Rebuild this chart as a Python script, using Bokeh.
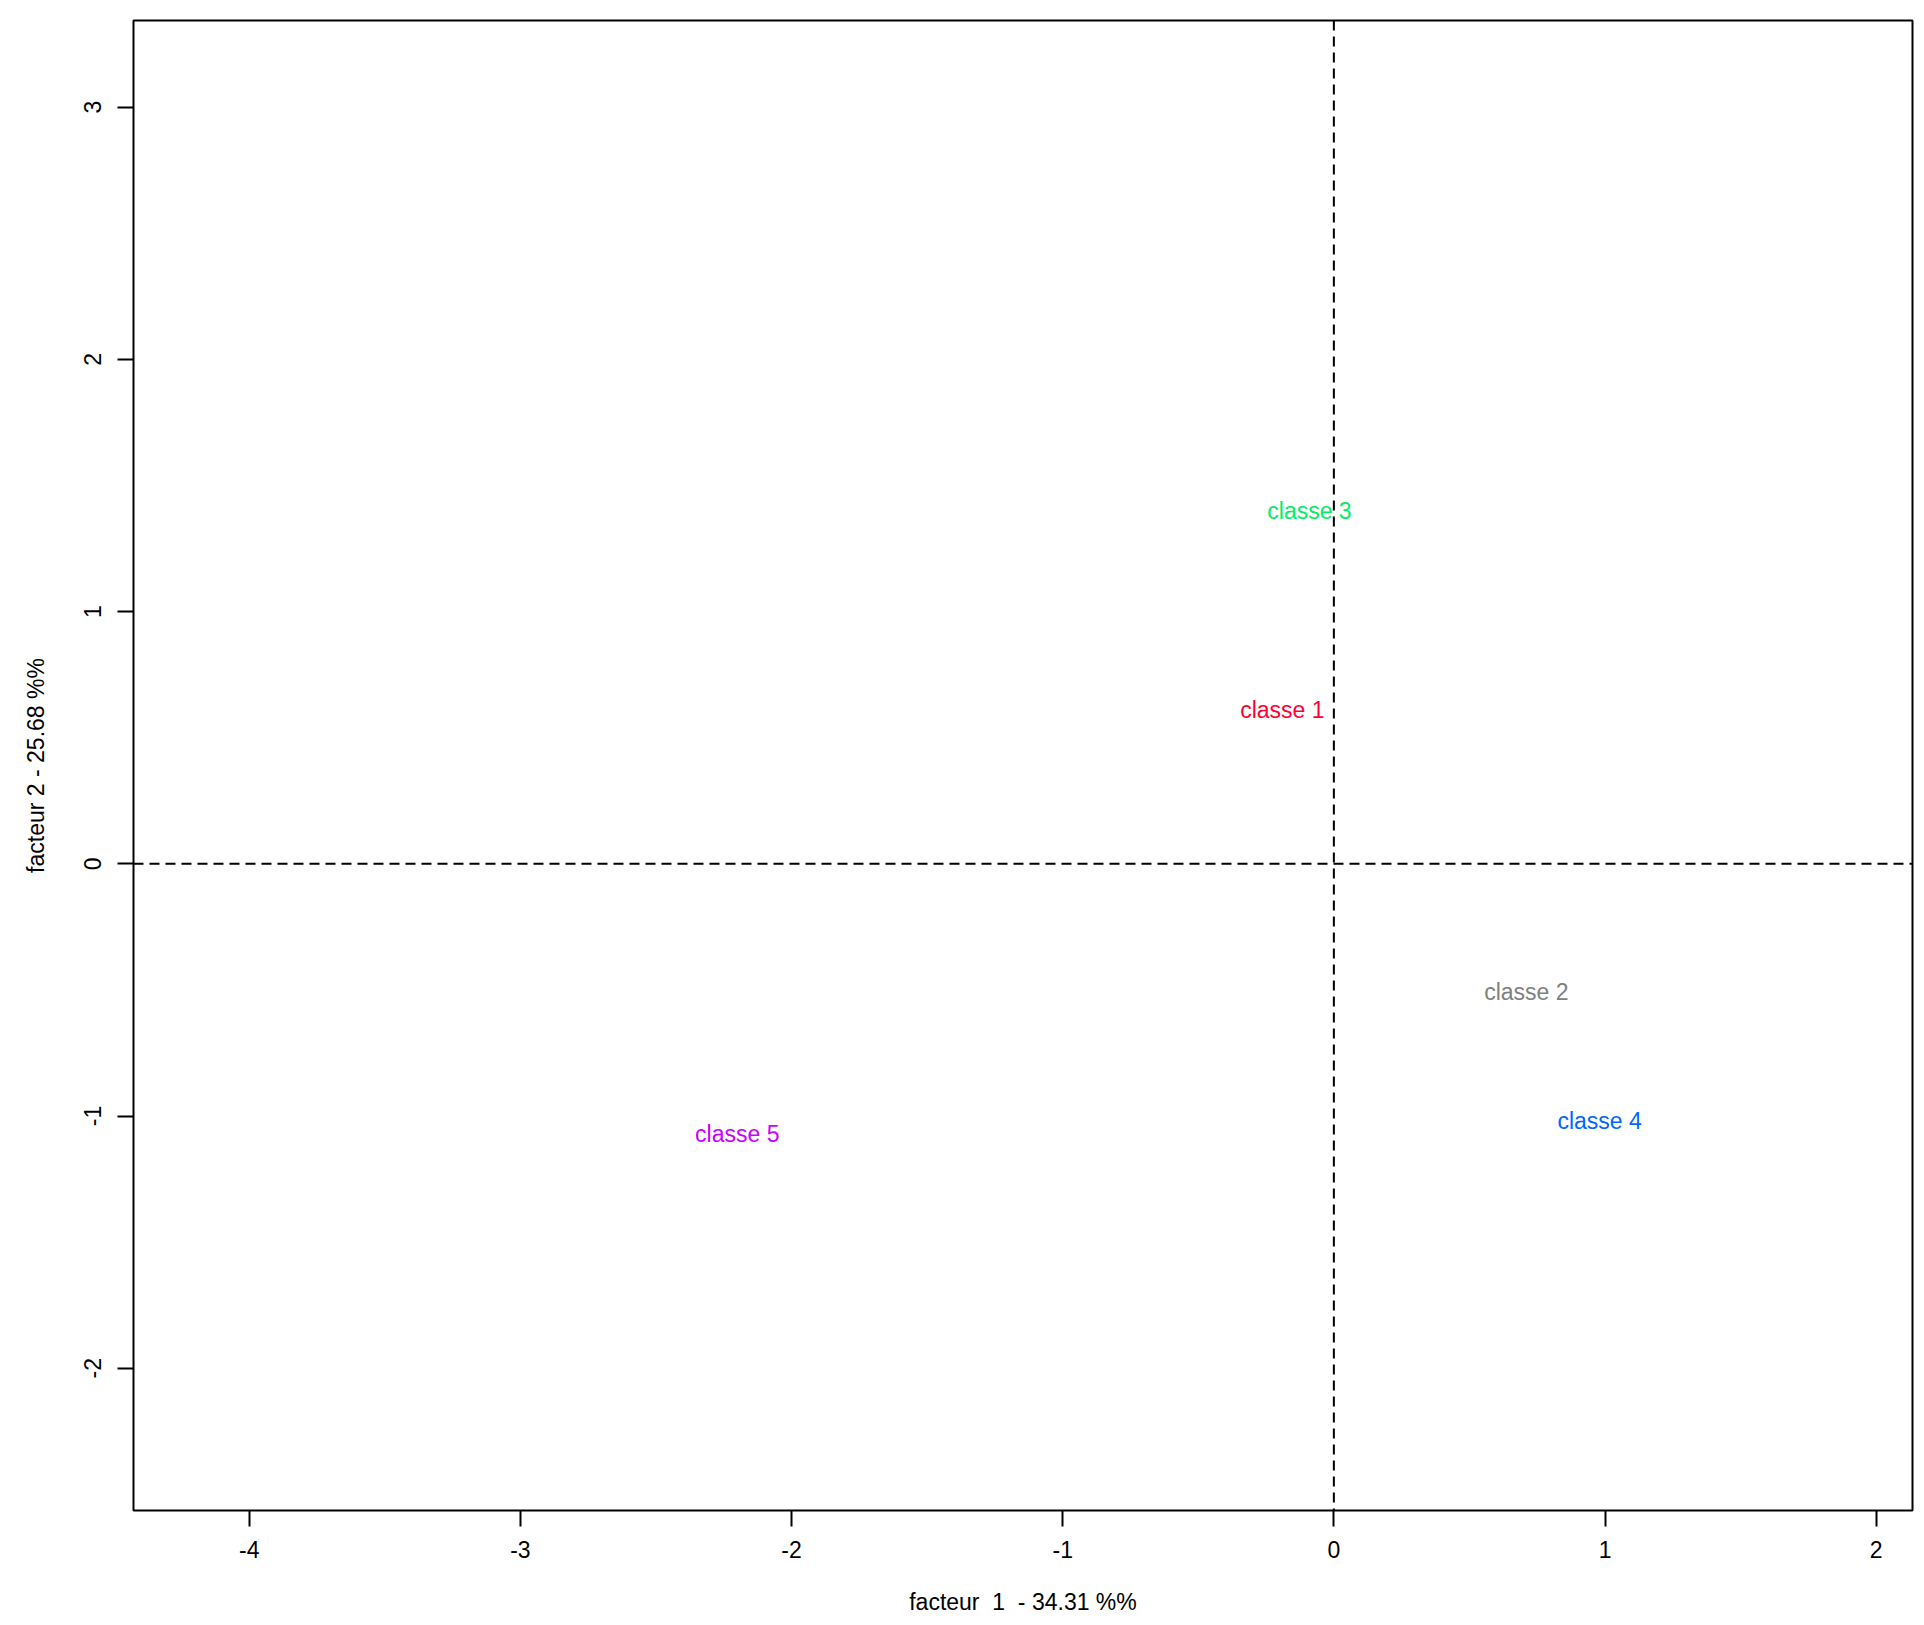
from bokeh.plotting import figure
from bokeh.models import Range1d, FixedTicker, Span, ColumnDataSource, PrintfTickFormatter
from bokeh.core.properties import value
from bokeh.embed import file_html
from bokeh.resources import INLINE

# data
class_names = ["classe 1", "classe 2", "classe 3", "classe 4", "classe 5"]
factor1 = [-0.19, 0.71, -0.09, 0.98, -2.20]
factor2 = [0.61, -0.51, 1.40, -1.02, -1.07]
class_colors = ["#FF0033", "#808080", "#00EE66", "#0066FF", "#CC00FF"]
x_ticks = [-4, -3, -2, -1, 0, 1, 2]
y_ticks = [-2, -1, 0, 1, 2, 3]
x_label = "facteur\u00a0 1\u00a0 - 34.31 %%"
y_label = "facteur 2 - 25.68 %%"

FONT = "Liberation Sans"
FS = "23px"

p = figure(width=1914, height=1620, output_backend="svg", toolbar_location=None,
           x_range=Range1d(-4.4267, 2.1339), y_range=Range1d(-2.5642, 3.3438),
           min_border_left=133, min_border_right=2, min_border_top=20, min_border_bottom=110)
p.background_fill_color = "white"
p.border_fill_color = "white"
p.outline_line_color = "black"
p.outline_line_width = 2
p.outline_line_alpha = 1.0
p.grid.visible = False

for ax in (p.xaxis[0], p.yaxis[0]):
    ax.axis_line_color = None
    ax.major_tick_line_color = "black"
    ax.major_tick_line_width = 2
    ax.major_tick_out = 16
    ax.major_tick_in = 0
    ax.minor_tick_line_color = None
    ax.major_label_text_font = FONT
    ax.major_label_text_font_size = FS
    ax.major_label_text_color = "black"
    ax.axis_label_text_font = FONT
    ax.axis_label_text_font_size = FS
    ax.axis_label_text_font_style = "normal"
    ax.axis_label_text_color = "black"
    ax.formatter = PrintfTickFormatter(format="%d")

p.xaxis[0].ticker = FixedTicker(ticks=x_ticks)
p.yaxis[0].ticker = FixedTicker(ticks=y_ticks)
p.xaxis[0].axis_label = x_label
p.yaxis[0].axis_label = y_label
p.xaxis[0].major_label_standoff = 14
p.xaxis[0].axis_label_standoff = 28
p.yaxis[0].major_label_orientation = "vertical"
p.yaxis[0].major_label_standoff = 16
p.yaxis[0].axis_label_standoff = 33

p.add_layout(Span(location=0, dimension="height", line_color="black", line_width=2, line_dash="10 6"))
p.add_layout(Span(location=0, dimension="width", line_color="black", line_width=2, line_dash="10 6"))

src = ColumnDataSource(dict(x=factor1, y=factor2, t=class_names, c=class_colors))
p.text(x="x", y="y", text="t", text_color="c", source=src,
       text_font=value(FONT), text_font_size=value(FS),
       text_align="center", text_baseline="middle")

open("out.html", "w").write(file_html(p, INLINE))
